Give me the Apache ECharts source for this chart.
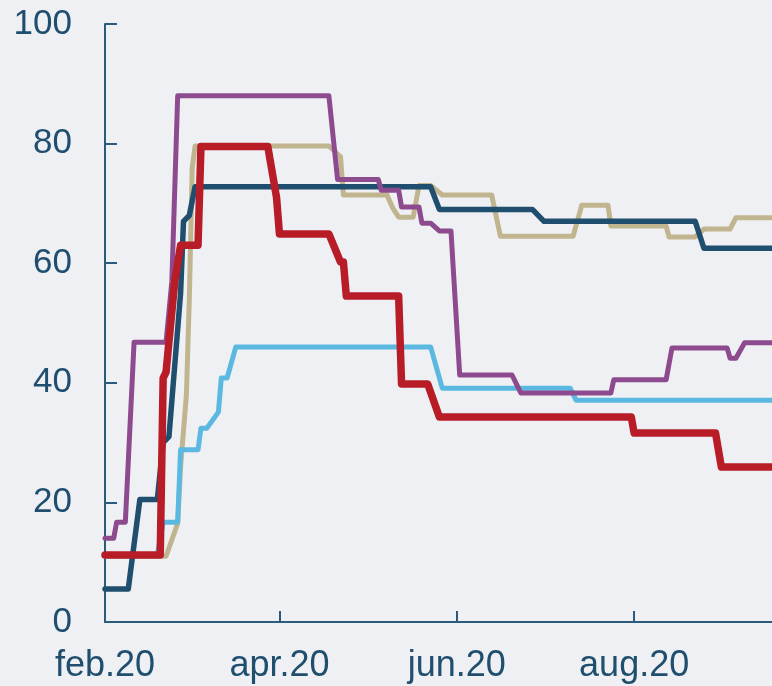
<!DOCTYPE html>
<html>
<head>
<meta charset="utf-8">
<script src="https://cdn.jsdelivr.net/npm/echarts@6/dist/echarts.min.js"></script>
<style>
  html, body { margin: 0; padding: 0; background: #eef0f3; }
  #chart { width: 772px; height: 686px; }
</style>
</head>
<body>
<div id="chart"></div>
<script>
// values: [date, value] at each change
let darkBlue = [
  ["2020-02-01", 5.5], ["2020-02-09", 5.5], ["2020-02-13", 20.5], ["2020-02-19", 20.5],
  ["2020-02-21", 30], ["2020-02-23", 31], ["2020-02-27", 55], ["2020-02-28", 67],
  ["2020-03-01", 68], ["2020-03-03", 72.8], ["2020-05-23", 72.8], ["2020-05-26", 69],
  ["2020-06-27", 69], ["2020-07-01", 67], ["2020-08-22", 67], ["2020-08-25", 62.5],
  ["2020-09-18", 62.5]
]
let tan = [
  ["2020-02-01", 11], ["2020-02-22", 11], ["2020-02-26", 16.5], ["2020-02-27", 26],
  ["2020-02-28", 32], ["2020-02-29", 38], ["2020-03-01", 54], ["2020-03-02", 76],
  ["2020-03-03", 79.6], ["2020-04-18", 79.6], ["2020-04-22", 77.8], ["2020-04-23", 71.4],
  ["2020-05-08", 71.4], ["2020-05-10", 69.2], ["2020-05-12", 67.7], ["2020-05-17", 67.7],
  ["2020-05-19", 73], ["2020-05-23", 73], ["2020-05-27", 71.4], ["2020-06-13", 71.4],
  ["2020-06-16", 64.5], ["2020-07-11", 64.5], ["2020-07-14", 69.7], ["2020-07-23", 69.7],
  ["2020-07-24", 66.2], ["2020-08-12", 66.2], ["2020-08-13", 64.4], ["2020-08-22", 64.4],
  ["2020-08-25", 65.7], ["2020-09-03", 65.7], ["2020-09-05", 67.6], ["2020-09-18", 67.6]
]
let lightBlue = [
  ["2020-02-01", 11.2], ["2020-02-19", 11.2], ["2020-02-21", 16.7], ["2020-02-26", 16.7],
  ["2020-02-27", 28.8], ["2020-03-04", 28.8], ["2020-03-05", 32.4], ["2020-03-07", 32.4],
  ["2020-03-11", 35.1], ["2020-03-12", 40.8], ["2020-03-14", 40.8], ["2020-03-17", 46],
  ["2020-05-23", 46], ["2020-05-27", 39.1], ["2020-07-10", 39.1], ["2020-07-12", 37.1],
  ["2020-09-18", 37.1]
]
let purple = [
  ["2020-02-01", 14], ["2020-02-04", 14], ["2020-02-05", 16.7], ["2020-02-08", 16.7],
  ["2020-02-11", 46.8], ["2020-02-22", 46.8], ["2020-02-24", 57], ["2020-02-26", 88],
  ["2020-04-18", 88], ["2020-04-21", 74], ["2020-05-05", 74], ["2020-05-06", 72.2],
  ["2020-05-12", 72.2], ["2020-05-13", 69.4], ["2020-05-19", 69.4], ["2020-05-20", 66.7],
  ["2020-05-23", 66.7], ["2020-05-26", 65.4], ["2020-05-30", 65.4], ["2020-06-02", 41.3],
  ["2020-06-20", 41.3], ["2020-06-23", 38.3], ["2020-07-24", 38.3], ["2020-07-25", 40.5],
  ["2020-08-12", 40.5], ["2020-08-14", 45.8], ["2020-09-02", 45.8], ["2020-09-03", 44.1],
  ["2020-09-05", 44.1], ["2020-09-08", 46.7], ["2020-09-18", 46.7]
]
let red = [
  ["2020-02-01", 11.2], ["2020-02-20", 11.2], ["2020-02-21", 40.8], ["2020-02-22", 41.8],
  ["2020-02-25", 57], ["2020-02-27", 63], ["2020-03-04", 63], ["2020-03-05", 79.5],
  ["2020-03-28", 79.5], ["2020-03-31", 71], ["2020-04-01", 64.9], ["2020-04-18", 64.9],
  ["2020-04-22", 60.2], ["2020-04-23", 60.2], ["2020-04-24", 54.5], ["2020-05-12", 54.5],
  ["2020-05-13", 39.8], ["2020-05-22", 39.8], ["2020-05-26", 34.3], ["2020-07-31", 34.3],
  ["2020-08-01", 31.6], ["2020-08-29", 31.6], ["2020-08-31", 25.9], ["2020-09-18", 25.9]
]

// x axis ticks and their labels
let xTicks = ["2020-02-01", "2020-04-01", "2020-06-01", "2020-08-01"]
let xTickLabels = ["feb.20", "apr.20", "jun.20", "aug.20"]
let xMin = "2020-02-01"
let xMax = "2020-09-17 10:00"

let axisColor = "#2b5b7a"
let textColor = "#1f4e6e"

function toTime(s) {
  return echarts.time.parse(s).getTime()
}
let tickTimes = xTicks.map(toTime)

function line(data, color, width) {
  return {
    type: "line",
    data: data.map(function (d) { return [toTime(d[0]), d[1]] }),
    showSymbol: false,
    symbol: "none",
    animation: false,
    lineStyle: { color: color, width: width, cap: "round", join: "round" }
  }
}

let myChart = echarts.init(document.getElementById("chart"))
let option = {
  backgroundColor: "#eef0f3",
  animation: false,
  textStyle: { fontFamily: "Liberation Sans, Arial, sans-serif" },
  grid: {
    left: 105,
    right: 0,
    top: 24,
    bottom: 64,
    containLabel: false,
    outerBoundsMode: "none"
  },
  xAxis: {
    type: "value",
    min: toTime(xMin),
    max: toTime(xMax),
    axisLine: { show: true, lineStyle: { color: axisColor, width: 2 } },
    axisTick: {
      show: true,
      inside: true,
      length: 11,
      customValues: tickTimes,
      lineStyle: { color: axisColor, width: 2 }
    },
    axisLabel: {
      customValues: tickTimes,
      color: textColor,
      fontSize: 36,
      margin: 26,
      showMinLabel: true,
      formatter: function (v) {
        let i = tickTimes.indexOf(v)
        return i >= 0 ? xTickLabels[i] : ""
      }
    },
    splitLine: { show: false }
  },
  yAxis: {
    type: "value",
    min: 0,
    max: 100,
    interval: 20,
    axisLine: { show: true, lineStyle: { color: axisColor, width: 2 } },
    axisTick: { show: true, inside: true, length: 12, lineStyle: { color: axisColor, width: 2 } },
    axisLabel: { color: textColor, fontSize: 35, margin: 33 },
    splitLine: { show: false }
  },
  series: [
    line(tan, "#c0b58e", 5),
    line(darkBlue, "#1f4e6e", 5.5),
    line(lightBlue, "#5bb9e1", 5),
    line(purple, "#8e4a8e", 5),
    line(red, "#b71c27", 7.5)
  ]
}
myChart.setOption(option)
</script>
</body>
</html>
